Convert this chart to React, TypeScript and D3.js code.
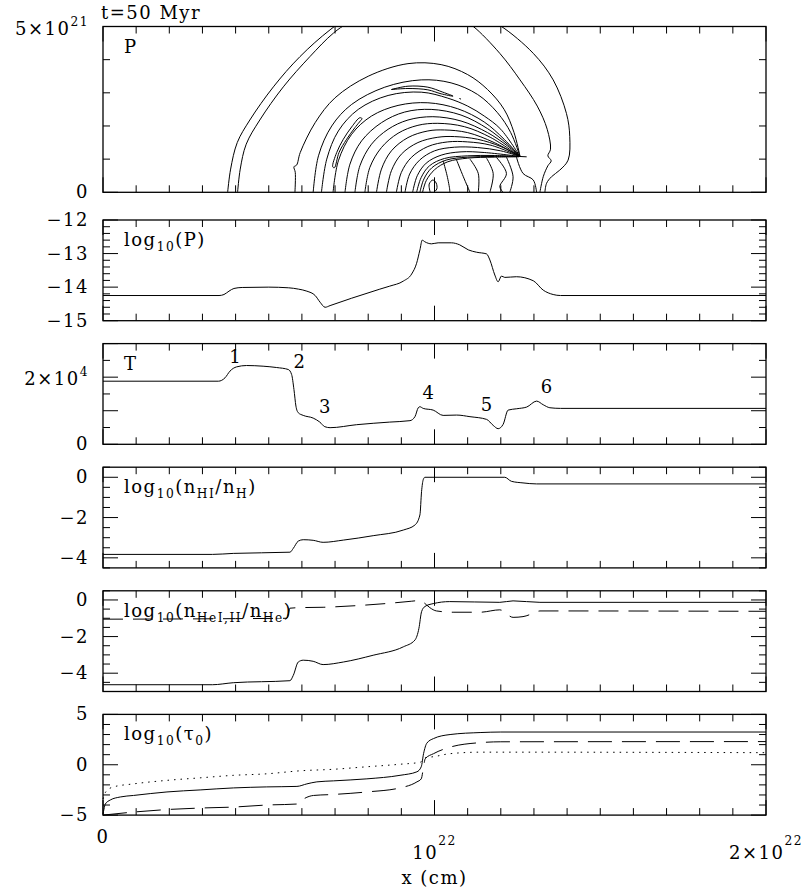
import React from 'react';
import * as d3 from 'd3';

const FONT = '"DejaVu Serif", "Liberation Serif", serif';
const FS = 18;
const LS = 1.5;

// x in units of 1e21 cm
const xMinor = d3.range(0, 21, 1);
const xMajor = [0, 10, 20];

// ---- panel 2 : log10(P)
const logPx = [0, 3.5, 3.65, 3.8, 3.95, 4.2, 5.0, 5.6, 5.9, 6.15, 6.4, 6.55, 6.7, 6.85, 7.5, 8.35, 8.65, 9.06, 9.31, 9.46, 9.56, 9.63, 9.71, 9.91, 10.11, 10.51, 10.76, 11.02, 11.27, 11.57, 11.67, 11.82, 11.92, 12.02, 12.12, 12.47, 12.98, 13.28, 13.58, 13.8, 20];
const logPy = [-14.25, -14.25, -14.22, -14.12, -14.04, -14.01, -14.0, -14.02, -14.06, -14.12, -14.25, -14.45, -14.6, -14.55, -14.33, -14.06, -13.97, -13.82, -13.61, -13.29, -12.89, -12.6, -12.65, -12.71, -12.68, -12.68, -12.74, -12.89, -12.96, -13.01, -13.19, -13.64, -13.84, -13.67, -13.71, -13.69, -13.81, -14.09, -14.22, -14.25, -14.25];

// ---- panel 3 : T
const tempX = [0, 3.48, 3.68, 3.83, 4.03, 4.33, 4.83, 5.24, 5.59, 5.69, 5.76, 5.82, 5.89, 6.04, 6.34, 6.54, 6.69, 6.85, 7.65, 8.65, 9.26, 9.41, 9.51, 9.56, 9.66, 9.96, 10.26, 10.67, 11.07, 11.57, 11.77, 11.92, 12.07, 12.22, 12.48, 12.78, 13.08, 13.28, 13.48, 13.8, 20];
const tempY = [18800, 18800, 19800, 21800, 23070, 23470, 23270, 22870, 22280, 20790, 16340, 11380, 9410, 8610, 7810, 6620, 5250, 4950, 5840, 6620, 7040, 8230, 10890, 11190, 10690, 10190, 8610, 8710, 8230, 7430, 5640, 4650, 5940, 10190, 10590, 11090, 12870, 11780, 10890, 10700, 10700];
const tNoteText = ['1', '2', '3', '4', '5', '6'];
const tNoteX = [3.98, 5.92, 6.69, 9.81, 11.57, 13.38];
const tNoteY = [26230, 24740, 11380, 15340, 11880, 17340];

// ---- panel 4 : log10(nHI/nH)
const hiX = [0, 3.3, 3.93, 5.64, 5.74, 5.89, 6.04, 6.34, 6.64, 7.25, 8.15, 9.06, 9.41, 9.56, 9.61, 9.66, 9.71, 12.12, 12.32, 12.67, 13.08, 20];
const hiY = [-3.83, -3.83, -3.78, -3.72, -3.53, -3.17, -3.1, -3.13, -3.23, -3.12, -2.9, -2.62, -2.37, -1.87, -0.7, -0.12, 0.0, 0.0, -0.2, -0.28, -0.33, -0.33];

// ---- panel 5 : log10(nHeI,II/nHe)
const heIX = [0, 3.3, 3.93, 5.64, 5.74, 5.89, 6.04, 6.34, 6.64, 7.25, 8.15, 9.06, 9.41, 9.53, 9.61, 9.71, 9.96, 10.46, 11.97, 12.37, 13.18, 20];
const heIY = [-4.63, -4.63, -4.52, -4.41, -4.12, -3.39, -3.29, -3.35, -3.53, -3.39, -3.02, -2.56, -2.19, -1.55, -0.64, -0.36, -0.2, -0.09, -0.13, -0.05, -0.13, -0.13];
const heIIX = [0, 2.0, 4.0, 5.55, 5.64, 5.94, 6.64, 7.65, 8.65, 9.3, 9.56, 9.76, 9.86, 10.06, 10.56, 11.37, 11.97, 12.37, 12.67, 12.98, 13.18, 20];
const heIIY = [-1.05, -1.04, -1.02, -1.0, -0.45, -0.42, -0.4, -0.31, -0.18, -0.07, -0.03, -0.27, -0.42, -0.6, -0.67, -0.67, -0.54, -0.95, -0.91, -0.73, -0.6, -0.62];

// ---- panel 6 : log10(tau0)
const tauSolidX = [0, 0.03, 0.07, 0.22, 0.52, 0.92, 1.93, 2.93, 3.94, 4.94, 5.85, 6.15, 6.45, 6.95, 7.96, 8.96, 9.47, 9.6, 9.67, 9.77, 9.97, 10.47, 11.4, 12.0, 20];
const tauSolidY = [-4.9, -4.4, -3.9, -3.5, -3.2, -3.05, -2.7, -2.5, -2.3, -2.2, -2.15, -1.9, -1.7, -1.6, -1.4, -1.05, -0.7, -0.2, 1.1, 2.15, 2.6, 3.0, 3.2, 3.25, 3.25];
const tauDashX = [0, 0.92, 1.93, 2.93, 3.94, 4.94, 5.85, 6.05, 6.35, 6.95, 7.96, 8.96, 9.47, 9.6, 9.67, 9.72, 9.97, 10.47, 11.4, 12.0, 20];
const tauDashY = [-5.0, -4.7, -4.45, -4.3, -4.2, -4.0, -3.9, -3.4, -3.05, -2.95, -2.7, -2.3, -1.7, -1.4, -0.2, 0.6, 1.1, 1.75, 2.2, 2.28, 2.3];
const tauDotX = [0, 0.05, 0.12, 0.32, 0.92, 1.93, 2.93, 3.94, 4.94, 5.95, 6.95, 7.96, 8.96, 9.57, 9.72, 9.97, 10.47, 11.4, 12.5, 20];
const tauDotY = [-3.4, -2.9, -2.55, -2.2, -1.9, -1.55, -1.3, -1.05, -0.9, -0.6, -0.45, -0.2, 0.05, 0.25, 0.7, 0.8, 1.1, 1.25, 1.25, 1.2];

// ---- panel 1 : pressure contours, (x, r) in 1e21 cm
const shellOuter = [[3.76, 0], [3.85, 0.7], [4.05, 1.5], [4.43, 2.18], [5.14, 3.18], [5.94, 4.09], [6.85, 4.9], [7.6, 5.4], [9.0, 5.8], [10.5, 5.65], [11.6, 5.2], [12.02, 5.0], [12.98, 4.19], [13.58, 3.39], [13.98, 2.38], [14.08, 1.68], [14.03, 0.97], [13.78, 0.67], [13.53, 0.47], [13.38, 0.27], [13.33, 0]];
const shellInner = [[4.06, 0], [4.14, 0.7], [4.32, 1.45], [4.73, 2.18], [5.44, 3.18], [6.24, 4.09], [6.95, 4.8], [7.4, 5.1], [8.6, 5.5], [10.0, 5.45], [10.9, 5.15], [11.17, 5.0], [11.97, 4.19], [12.58, 3.39], [13.1, 2.6], [13.4, 1.9], [13.5, 1.3], [13.42, 1.1], [13.52, 0.95], [13.42, 0.8], [13.28, 0.47], [13.18, 0]];
const nestedArcs = [
  [[5.79, 0], [5.8, 0.6], [5.76, 0.77], [5.84, 0.82], [5.95, 1.2], [6.4, 2.1], [7.0, 2.85], [8.0, 3.5], [9.2, 3.88], [10.2, 3.85], [11.0, 3.55], [11.6, 3.1], [12.1, 2.5], [12.4, 1.8], [12.58, 1.08]],
  [[6.34, 0], [6.5, 1.1], [6.9, 2.0], [7.5, 2.65], [8.5, 3.17], [9.6, 3.39], [10.5, 3.3], [11.3, 2.95], [11.9, 2.4], [12.3, 1.8], [12.58, 1.08]],
  [[6.59, 0], [6.75, 1.0], [7.1, 1.85], [7.7, 2.5], [8.6, 2.92], [9.6, 3.02], [10.4, 2.84], [11.0, 2.6], [11.5, 2.3], [12.0, 1.9], [12.58, 1.08]],
  [[6.94, 0], [7.1, 0.95], [7.5, 1.75], [8.1, 2.3], [8.9, 2.62], [9.8, 2.7], [10.7, 2.52], [11.5, 2.12], [12.1, 1.6], [12.58, 1.08]],
  [[7.3, 0], [7.45, 0.85], [7.8, 1.55], [8.4, 2.1], [9.1, 2.42], [9.9, 2.5], [10.8, 2.33], [11.6, 1.92], [12.2, 1.45], [12.58, 1.08]],
  [[7.6, 0], [7.75, 0.8], [8.1, 1.45], [8.6, 1.9], [9.2, 2.18], [9.95, 2.28], [10.8, 2.15], [11.6, 1.8], [12.2, 1.4], [12.58, 1.08]],
  [[7.9, 0], [8.05, 0.75], [8.4, 1.35], [8.9, 1.78], [9.5, 2.02], [10.1, 2.08], [10.9, 1.98], [11.7, 1.65], [12.58, 1.08]],
  [[8.25, 0], [8.4, 0.7], [8.7, 1.25], [9.2, 1.65], [9.8, 1.85], [10.3, 1.88], [11.0, 1.8], [11.8, 1.5], [12.58, 1.08]],
  [[8.55, 0], [8.7, 0.65], [9.0, 1.15], [9.5, 1.5], [10.1, 1.66], [10.6, 1.68], [11.3, 1.6], [12.0, 1.38], [12.58, 1.08]],
  [[8.85, 0], [9.0, 0.6], [9.3, 1.05], [9.8, 1.38], [10.4, 1.52], [11.0, 1.52], [11.7, 1.42], [12.58, 1.08]],
  [[9.11, 0], [9.25, 0.55], [9.55, 0.97], [10.0, 1.25], [10.6, 1.36], [11.3, 1.35], [12.0, 1.25], [12.58, 1.08]],
  [[9.34, 0], [9.48, 0.5], [9.75, 0.88], [10.2, 1.12], [10.8, 1.22], [11.5, 1.2], [12.58, 1.08]],
  [[9.46, 0], [9.6, 0.45], [9.85, 0.8], [10.3, 1.02], [11.0, 1.1], [11.8, 1.11], [12.58, 1.08]],
  [[9.56, 0], [9.68, 0.4], [9.92, 0.74], [10.35, 0.97], [11.0, 1.06], [11.8, 1.08], [12.58, 1.08]],
  [[9.64, 0], [9.75, 0.35], [10.0, 0.68], [10.4, 0.92], [11.0, 1.03], [11.8, 1.06], [12.55, 1.07]],
];
const innerWiggles = [
  [[9.87, 0.0], [9.84, 0.25], [9.95, 0.37], [10.05, 0.28], [10.07, 0.1], [9.98, 0.0]],
  [[10.26, 0.95], [10.38, 0.5], [10.46, 0.07], [10.46, 0]],
  [[10.66, 0.99], [10.87, 0.47], [11.07, 0]],
  [[11.07, 1.0], [11.32, 0.57], [11.32, 0]],
  [[11.57, 1.03], [11.77, 0.57], [11.67, 0]],
  [[11.87, 1.05], [12.17, 0.57], [11.97, 0.17], [12.07, 0]],
  [[12.17, 1.06], [12.37, 0.47], [12.27, 0]],
  [[12.47, 1.07], [12.67, 0.57], [12.98, 0.37], [13.08, 0]],
];
const contourBits = [
  [[7.82, 2.22], [7.6, 1.95], [7.35, 1.6], [7.12, 1.2], [6.98, 0.74], [6.93, 0.77], [7.05, 1.2], [7.25, 1.6], [7.5, 1.97], [7.75, 2.25], [7.82, 2.22]],
  [[8.7, 3.1], [9.2, 3.2], [9.8, 3.17], [10.25, 3.02], [10.56, 2.9], [10.2, 2.97], [9.8, 3.09], [9.2, 3.13], [8.7, 3.1]],
  [[10.75, 2.83], [10.8, 2.81]],
  [[12.58, 1.08], [12.78, 1.07]],
];

// ---- layout of panels (page px)
const X_L = 103;
const X_R = 766;
const xScale = d3.scaleLinear().domain([0, 20]).range([X_L, X_R]);

type Seg = { t: string; s?: 'sub' | 'sup' };

function Rich({ x, y, segs, anchor = 'start', size = FS, raise = 0.45, drop = 0.28 }: any) {
  let shift = 0;
  return (
    <text x={x} y={y} fontFamily={FONT} fontSize={size} textAnchor={anchor} fill="#000" letterSpacing={LS}>
      {segs.map((sg: Seg, i: number) => {
        const target = sg.s === 'sub' ? size * drop : sg.s === 'sup' ? -size * raise : 0;
        const dy = target - shift;
        shift = target;
        return (
          <tspan key={i} dy={dy} fontSize={sg.s ? size * 0.68 : size}>
            {sg.t}
          </tspan>
        );
      })}
    </text>
  );
}

const near = (a: number, list: number[]) => list.some((b) => Math.abs(a - b) < 1e-6);

function Panel({ top, bottom, domain, minor, major, labels, label, children }: any) {
  const y = d3.scaleLinear().domain(domain).range([bottom, top]);
  return (
    <g>
      <g stroke="#000" strokeWidth={1}>
        {xMinor.map((v) => {
          const len = near(v, xMajor) ? 15 : 7;
          const px = xScale(v);
          return (
            <g key={'x' + v}>
              <line x1={px} x2={px} y1={bottom} y2={bottom - len} />
              <line x1={px} x2={px} y1={top} y2={top + len} />
            </g>
          );
        })}
        {minor.map((v: number) => {
          const len = near(v, major) ? 15 : 7;
          const py = y(v);
          return (
            <g key={'y' + v}>
              <line x1={X_L} x2={X_L + len} y1={py} y2={py} />
              <line x1={X_R} x2={X_R - len} y1={py} y2={py} />
            </g>
          );
        })}
      </g>
      {children(y)}
      <rect x={X_L} y={top} width={X_R - X_L} height={bottom - top} fill="none" stroke="#000" strokeWidth={1.3} />
      {labels.map((l: any, i: number) => (
        <Rich key={i} x={89} y={y(l.v) + 6 + (l.dy || 0)} segs={l.segs} anchor="end" raise={0.5} />
      ))}
      <Rich x={124} y={top + 26} segs={label} />
    </g>
  );
}

const lineXY = (xs: number[], ys: number[], y: any) =>
  d3
    .line<number>()
    .x((_, i) => xScale(xs[i]))
    .y((_, i) => y(ys[i]))
    .curve(d3.curveMonotoneX)(xs) as string;

const T2 = 220;
const STEP = 123.6;
const PH = 100.7;

export default function App() {
  const p1Top = 26.5;
  const p1Bot = 192.3;
  const yP1 = d3.scaleLinear().domain([0, 5]).range([p1Bot, p1Top]);
  const contour = d3
    .line<number[]>()
    .x((d) => xScale(d[0]))
    .y((d) => yP1(d[1]))
    .curve(d3.curveCatmullRom.alpha(0.5));
  const allContours = [shellOuter, shellInner, ...nestedArcs, ...innerWiggles, ...contourBits];

  const num = (t: string): Seg[] => [{ t }];
  const tops = [0, 1, 2, 3, 4].map((i) => T2 + i * STEP);

  return (
    <svg width={808} height={892} style={{ position: 'absolute', left: 0, top: 0 }}>
      <rect width={808} height={892} fill="#fff" />
      <defs>
        <clipPath id="p1clip">
          <rect x={X_L} y={p1Top} width={X_R - X_L} height={p1Bot - p1Top} />
        </clipPath>
      </defs>

      {/* panel 1: contours of P */}
      <Panel
        top={p1Top}
        bottom={p1Bot}
        domain={[0, 5]}
        minor={[0, 1, 2, 3, 4, 5]}
        major={[0, 5]}
        labels={[
          { v: 0, segs: num('0') },
          { v: 5, segs: [{ t: '5×10' }, { t: '21', s: 'sup' }], dy: 2 },
        ]}
        label={[{ t: 'P' }]}
      >
        {() => (
          <g clipPath="url(#p1clip)" fill="none" stroke="#000" strokeWidth={1}>
            {allContours.map((c, i) => (
              <path key={i} d={contour(c as any) as string} />
            ))}
          </g>
        )}
      </Panel>
      <Rich x={101} y={19} segs={[{ t: 't=50 Myr' }]} />

      {/* panel 2: log10(P) */}
      <Panel
        top={tops[0]}
        bottom={tops[0] + PH}
        domain={[-15, -12]}
        minor={d3.range(-15, -11.99, 0.2)}
        major={[-15, -14, -13, -12]}
        labels={[-15, -14, -13, -12].map((v) => ({ v, segs: num('−' + Math.abs(v)) }))}
        label={[{ t: 'log' }, { t: '10', s: 'sub' }, { t: '(P)' }]}
      >
        {(y: any) => <path d={lineXY(logPx, logPy, y)} fill="none" stroke="#000" strokeWidth={1} />}
      </Panel>

      {/* panel 3: T */}
      <Panel
        top={tops[1]}
        bottom={tops[1] + PH}
        domain={[0, 30000]}
        minor={[0, 5000, 10000, 15000, 20000, 25000, 30000]}
        major={[0, 10000, 20000, 30000]}
        labels={[
          { v: 0, segs: num('0') },
          { v: 20000, segs: [{ t: '2×10' }, { t: '4', s: 'sup' }], dy: 2 },
        ]}
        label={[{ t: 'T' }]}
      >
        {(y: any) => (
          <g>
            <path d={lineXY(tempX, tempY, y)} fill="none" stroke="#000" strokeWidth={1} />
            {tNoteText.map((t, i) => (
              <text
                key={t}
                x={xScale(tNoteX[i])}
                y={y(tNoteY[i]) + 6.5}
                textAnchor="middle"
                fontFamily={FONT}
                fontSize={FS}
              >
                {t}
              </text>
            ))}
          </g>
        )}
      </Panel>

      {/* panel 4: log10(nHI/nH) */}
      <Panel
        top={tops[2]}
        bottom={tops[2] + PH}
        domain={[-4.5, 0.5]}
        minor={d3.range(-4.5, 0.51, 0.5)}
        major={[-4, -2, 0]}
        labels={[0, -2, -4].map((v) => ({ v, segs: num(v === 0 ? '0' : '−' + Math.abs(v)) }))}
        label={[{ t: 'log' }, { t: '10', s: 'sub' }, { t: '(n' }, { t: 'HI', s: 'sub' }, { t: '/n' }, { t: 'H', s: 'sub' }, { t: ')' }]}
      >
        {(y: any) => <path d={lineXY(hiX, hiY, y)} fill="none" stroke="#000" strokeWidth={1} />}
      </Panel>

      {/* panel 5: log10(nHeI,II/nHe) */}
      <Panel
        top={tops[3]}
        bottom={tops[3] + PH}
        domain={[-5, 0.5]}
        minor={d3.range(-5, 0.51, 0.5)}
        major={[-4, -2, 0]}
        labels={[0, -2, -4].map((v) => ({ v, segs: num(v === 0 ? '0' : '−' + Math.abs(v)) }))}
        label={[{ t: 'log' }, { t: '10', s: 'sub' }, { t: '(n' }, { t: 'HeI,II', s: 'sub' }, { t: '/n' }, { t: 'He', s: 'sub' }, { t: ')' }]}
      >
        {(y: any) => (
          <g fill="none" stroke="#000" strokeWidth={1}>
            <path d={lineXY(heIX, heIY, y)} />
            <path d={lineXY(heIIX, heIIY, y)} strokeDasharray="20,10" />
          </g>
        )}
      </Panel>

      {/* panel 6: log10(tau0) */}
      <Panel
        top={tops[4]}
        bottom={tops[4] + PH}
        domain={[-5, 5]}
        minor={d3.range(-5, 5.01, 1)}
        major={[-5, 0, 5]}
        labels={[5, 0, -5].map((v) => ({ v, segs: num(v < 0 ? '−5' : String(v)) }))}
        label={[{ t: 'log' }, { t: '10', s: 'sub' }, { t: '(τ' }, { t: '0', s: 'sub' }, { t: ')' }]}
      >
        {(y: any) => (
          <g fill="none" stroke="#000" strokeWidth={1}>
            <path d={lineXY(tauSolidX, tauSolidY, y)} />
            <path d={lineXY(tauDashX, tauDashY, y)} strokeDasharray="24,10" />
            <path d={lineXY(tauDotX, tauDotY, y)} strokeDasharray="1.5,5" />
          </g>
        )}
      </Panel>

      {/* x axis labels */}
      <Rich x={xScale(0)} y={843} segs={[{ t: '0' }]} anchor="middle" />
      <Rich x={xScale(10)} y={859} segs={[{ t: '10' }, { t: '22', s: 'sup' }]} anchor="middle" raise={0.8} />
      <Rich x={xScale(20)} y={859} segs={[{ t: '2×10' }, { t: '22', s: 'sup' }]} anchor="middle" raise={0.8} />
      <Rich x={xScale(10)} y={884} segs={[{ t: 'x (cm)' }]} anchor="middle" />
    </svg>
  );
}
